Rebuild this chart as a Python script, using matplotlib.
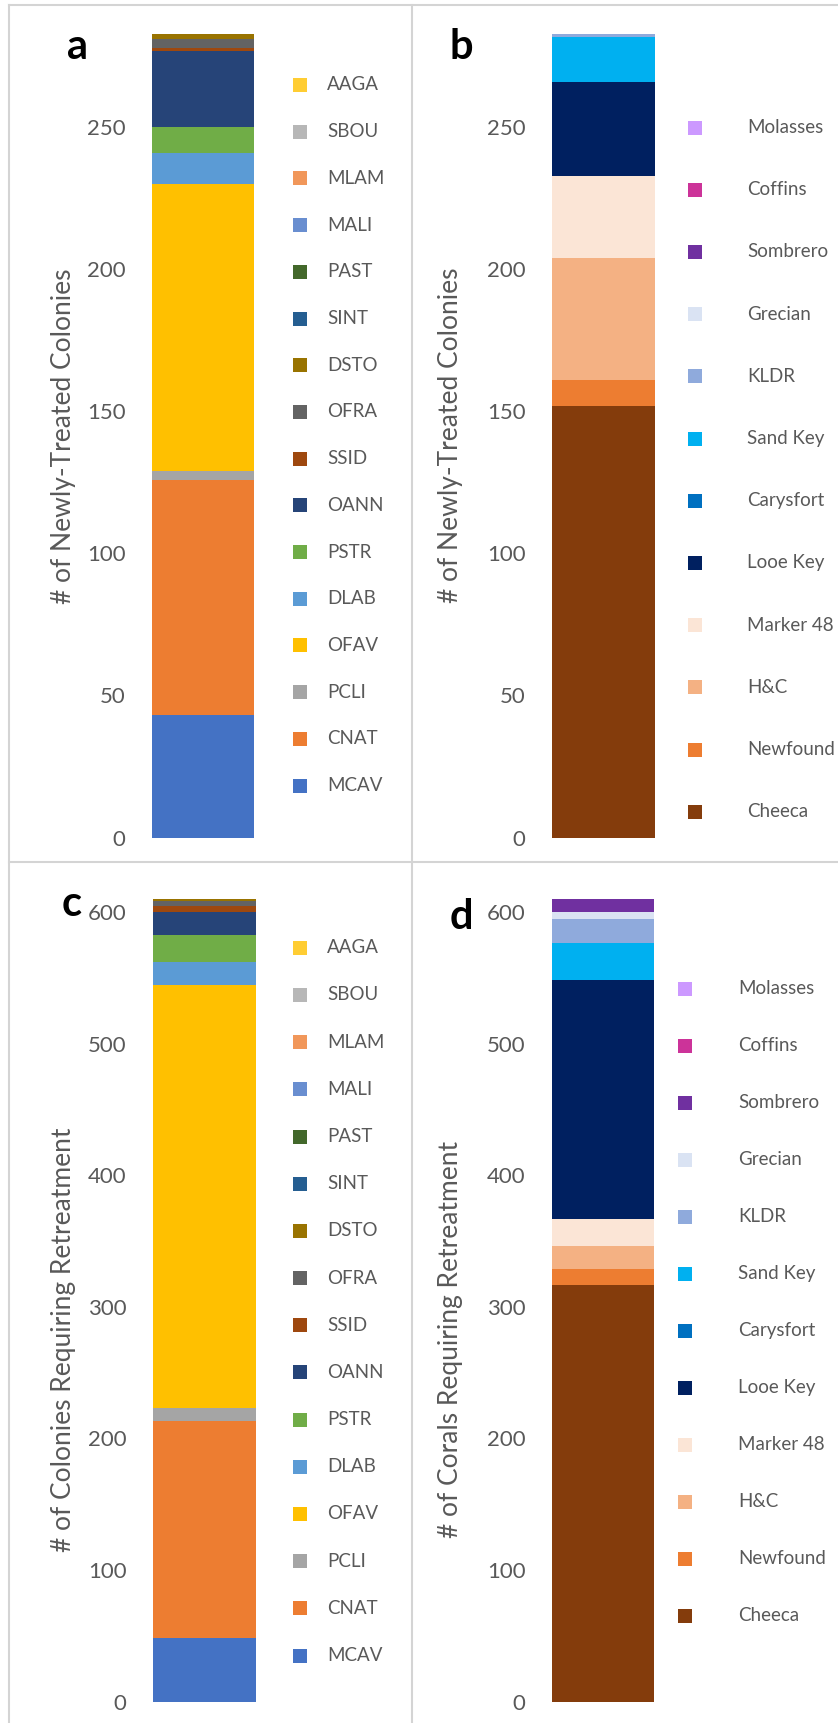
import matplotlib
matplotlib.use("Agg")
import matplotlib.pyplot as plt
from matplotlib.patches import Rectangle
from matplotlib.lines import Line2D

plt.rcParams['font.family'] = ['Lato', 'DejaVu Sans']

# species (bottom -> top of the stack)
species = ['MCAV', 'CNAT', 'PCLI', 'OFAV', 'DLAB', 'PSTR', 'OANN', 'SSID',
           'OFRA', 'DSTO', 'SINT', 'PAST', 'MALI', 'MLAM', 'SBOU', 'AAGA']
species_colors = ['#4472C4', '#ED7D31', '#A5A5A5', '#FFC000', '#5B9BD5', '#70AD47',
                  '#264478', '#9E480E', '#636363', '#997300', '#255E91', '#43682B',
                  '#698ED0', '#F1975A', '#B7B7B7', '#FFCD33']
new_by_species = [43, 83, 3, 101, 11, 9, 27, 1, 3, 2, 0, 0, 0, 0, 0, 0]
retreat_by_species = [48, 165, 10, 322, 17, 21, 17, 5, 4, 1, 0, 0, 0, 0, 0, 0]

# sites (bottom -> top of the stack)
sites = ['Cheeca', 'Newfound', 'H&C', 'Marker 48', 'Looe Key', 'Carysfort',
         'Sand Key', 'KLDR', 'Grecian', 'Sombrero', 'Coffins', 'Molasses']
site_colors = ['#843C0C', '#ED7D31', '#F4B183', '#FBE5D6', '#002060', '#0070C0',
               '#00B0F0', '#8FAADC', '#DAE3F3', '#7030A0', '#CC3399', '#CC99FF']
new_by_site = [152, 9, 43, 29, 33, 0, 16, 1, 0, 0, 0, 0]
retreat_by_site = [317, 12, 17, 21, 182, 0, 28, 18, 5, 10, 0, 0]

W, H = 838, 1723
fig = plt.figure(figsize=(W / 100, H / 100), dpi=100)
GRAY = '#595959'


def px(x, y):
    # pixel (from top-left) -> figure fraction
    return x / W, 1 - y / H


def panel(rect, values, colors, labels, yticks, ylabel, ylab_xy, letter, letter_xy,
          leg_x, leg_tx, leg_y0, leg_dy):
    left, top, right, bottom = rect
    ax = fig.add_axes([left / W, 1 - bottom / H, (right - left) / W, (bottom - top) / H])
    base = 0
    for v, c in zip(values, colors):
        if v > 0:
            ax.bar(0, v, bottom=base, width=1.0, color=c, linewidth=0)
        base += v
    ax.set_xlim(-0.5, 0.5)
    ax.set_ylim(0, base)
    ax.set_yticks(yticks)
    ax.tick_params(axis='y', length=0, pad=19, labelsize=16, labelcolor=GRAY)
    ax.set_xticks([])
    for s in ax.spines.values():
        s.set_visible(False)

    fx, fy = px(*ylab_xy)
    fig.text(fx, fy, ylabel, rotation=90, ha='center', va='center',
             fontsize=19, color=GRAY)
    lx, ly = px(*letter_xy)
    fig.text(lx, ly, letter, ha='center', va='center', fontsize=30, fontweight='bold')

    # legend, top entry is the last series
    sq = 14
    for i, (lab, c) in enumerate(zip(labels[::-1], colors[::-1])):
        yc = leg_y0 + i * leg_dy
        x0, y0 = px(leg_x, yc + sq / 2)
        fig.add_artist(Rectangle((x0, y0), sq / W, sq / H, transform=fig.transFigure,
                                 facecolor=c, edgecolor='none'))
        tx, ty = px(leg_tx, yc)
        fig.text(tx, ty, lab, ha='left', va='center', fontsize=13.5, color=GRAY)
    return ax


panel((152, 33.7, 254, 837.5), new_by_species, species_colors, species,
      [0, 50, 100, 150, 200, 250], '# of Newly-Treated Colonies', (63, 436),
      'a', (77, 47), 293, 327, 85, 46.7)
panel((552, 33.7, 655, 837.5), new_by_site, site_colors, sites,
      [0, 50, 100, 150, 200, 250], '# of Newly-Treated Colonies', (450, 435),
      'b', (461, 47), 688, 747, 127.5, 62.2)
panel((153, 899.3, 255.5, 1701.5), retreat_by_species, species_colors, species,
      [0, 100, 200, 300, 400, 500, 600], '# of Colonies Requiring Retreatment', (63, 1340),
      'c', (72, 904), 293, 327, 947.8, 47.18)
panel((552, 899.3, 654, 1701.5), retreat_by_site, site_colors, sites,
      [0, 100, 200, 300, 400, 500, 600], '# of Corals Requiring Retreatment', (450, 1339),
      'd', (461, 917), 678, 738, 988.5, 57.0)

# panel borders
bc = '#D4D4D4'
for (x1, y1, x2, y2) in [(9, 5, 838, 5), (9, 5, 9, 1723), (412, 5, 412, 1723),
                         (9, 862, 838, 862)]:
    a, b = px(x1, y1)
    c, d = px(x2, y2)
    fig.add_artist(Line2D([a, c], [b, d], transform=fig.transFigure, color=bc, lw=1.5))

fig.savefig('out.png', dpi=100)
